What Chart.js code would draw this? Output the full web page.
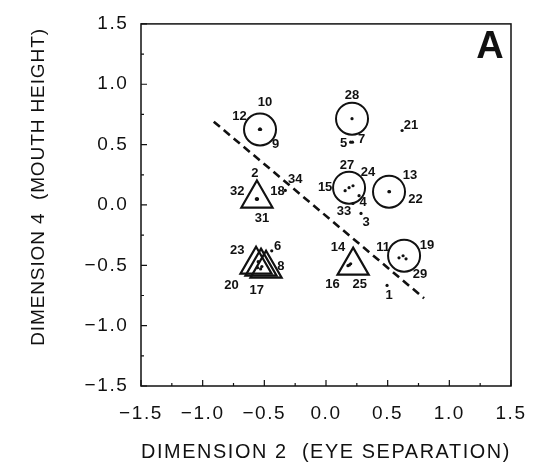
<!DOCTYPE html>
<html>
<head>
<meta charset="utf-8">
<script src="https://cdn.jsdelivr.net/npm/chart.js@4/dist/chart.umd.min.js"></script>
<style>
  body { margin: 0; background: #fff; }
  canvas { display: block; }
</style>
</head>
<body>
<canvas id="mds_a" width="545" height="462"></canvas>
<script>
// numero de cada cara y su posicion en el espacio (dim 2, dim 4)
var caraIds = ['1','2','3','4','5','6','7','8','9','10','11','12','13','14','15','16','17','18','19','20','21','22','23','24','25','27','28','29','31','32','33','34'];
var dim2 = [0.495,-0.56,0.284,0.268,0.20,-0.44,0.215,-0.52,-0.53,-0.535,0.592,-0.54,0.51,0.178,0.155,0.19,-0.53,-0.555,0.625,-0.555,0.617,0.515,-0.55,0.219,0.20,0.187,0.211,0.649,-0.56,-0.565,0.219,-0.33];
var dim4 = [-0.667,0.05,-0.07,0.077,0.52,-0.38,0.52,-0.51,0.625,0.63,-0.438,0.625,0.11,-0.503,0.118,-0.497,-0.53,0.05,-0.421,-0.52,0.617,0.11,-0.47,0.159,-0.487,0.143,0.715,-0.446,0.045,0.05,0.012,0.12];

// grupos marcados con circulo
var circuloX = [-0.535, 0.211, 0.187, 0.511, 0.633];
var circuloY = [0.625, 0.715, 0.143, 0.11, -0.42];

// grupos marcados con triangulo
var trianguloX = [-0.56, 0.22, -0.567, -0.527, -0.486];
var trianguloY = [0.053, -0.503, -0.495, -0.511, -0.528];

// recta discriminante (punteada)
var rectaX = [-0.91, 0.795];
var rectaY = [0.69, -0.773];

// marcas de los ejes
var ticksEje = [-1.5, -1.0, -0.5, 0.0, 0.5, 1.0, 1.5];

// textos
var tituloX = 'DIMENSION 2  (EYE SEPARATION)';
var tituloY = 'DIMENSION 4  (MOUTH HEIGHT)';
var letraPanel = 'A';

// desplazamiento de cada etiqueta respecto a su punto (px)
var desplazamientos = {
  '1':[2,10], '2':[-2,-25], '3':[5,9], '4':[4,7], '5':[-7,1], '6':[6,-4], '7':[9,-3],
  '8':[19,0], '9':[15,15], '10':[5,-26], '11':[-16,-10], '12':[-20,-13], '13':[21,-16],
  '14':[-10,-18], '15':[-20,-3], '16':[-17,19], '17':[-4,22], '18':[20,-7], '19':[24,-10],
  '20':[-26,18], '21':[9,-5], '22':[26,8], '23':[-21,-11], '24':[15,-13], '25':[9,21],
  '27':[-2,-22], '28':[0,-23], '29':[14,16], '31':[5,19], '32':[-19,-7], '33':[-9,8], '34':[10,-11]
};

function pares(xs, ys) {
  return xs.map(function (x, i) { return {x: x, y: ys[i]}; });
}

function formatoTick(v) {
  return Number(v).toFixed(1).replace('-', '\u2212');
}

var fuente = '"Liberation Sans", Arial, sans-serif';
var negro = '#111';
var espaciado = '1.6px';

// espaciado de letras tipo Helvetica ancha para ejes
var espaciadoPlugin = {
  id: 'espaciadoPlugin',
  beforeUpdate: function (chart) { chart.ctx.letterSpacing = espaciado; },
  beforeDraw: function (chart) { chart.ctx.letterSpacing = espaciado; }
};

// marco, marcas internas, titulo Y, etiquetas de puntos y letra del panel
var marcoPlugin = {
  id: 'marcoPlugin',
  afterDraw: function (chart) {
    var ctx = chart.ctx, a = chart.chartArea, sx = chart.scales.x, sy = chart.scales.y;
    ctx.save();
    ctx.strokeStyle = negro;
    ctx.lineWidth = 1.5;
    ctx.strokeRect(a.left, a.top, a.right - a.left, a.bottom - a.top);
    ctx.lineWidth = 1.2;
    for (var k = 0; k <= 12; k++) {
      var v = -1.5 + k * 0.25;
      var largo = (k % 2 === 0) ? 6 : 3;
      var px = sx.getPixelForValue(v);
      var py = sy.getPixelForValue(v);
      ctx.beginPath();
      ctx.moveTo(px, a.bottom); ctx.lineTo(px, a.bottom - largo);
      ctx.moveTo(a.left, py); ctx.lineTo(a.left + largo, py);
      ctx.stroke();
    }
    ctx.fillStyle = negro;
    ctx.textAlign = 'center';
    ctx.textBaseline = 'middle';

    // titulo del eje Y (un poco por encima del centro, como el original)
    ctx.save();
    ctx.font = '19px ' + fuente;
    ctx.letterSpacing = '0.9px';
    ctx.translate(38.5, 187);
    ctx.rotate(-Math.PI / 2);
    ctx.fillText(tituloY, 0, 0);
    ctx.restore();

    ctx.letterSpacing = '0px';
    ctx.font = 'bold 13px ' + fuente;
    caraIds.forEach(function (id, i) {
      var d = desplazamientos[id] || [0, -10];
      ctx.fillText(id, sx.getPixelForValue(dim2[i]) + d[0], sy.getPixelForValue(dim4[i]) + d[1]);
    });
    ctx.font = 'bold 38px ' + fuente;
    ctx.fillText(letraPanel, a.right - 21, a.top + 24);
    ctx.restore();
  }
};

var configuracion = {
  type: 'scatter',
  data: {
    datasets: [
      {
        label: 'caras',
        data: pares(dim2, dim4),
        pointRadius: 1.6,
        pointBackgroundColor: negro,
        pointBorderWidth: 0
      },
      {
        label: 'recta',
        data: pares(rectaX, rectaY),
        showLine: true,
        borderColor: negro,
        borderWidth: 2.6,
        borderDash: [8, 5],
        pointRadius: 0
      },
      {
        label: 'circulos',
        data: pares(circuloX, circuloY),
        pointStyle: 'circle',
        pointRadius: 16,
        pointBorderColor: negro,
        pointBorderWidth: 2,
        pointBackgroundColor: 'rgba(0,0,0,0)'
      },
      {
        label: 'triangulos',
        data: pares(trianguloX, trianguloY),
        pointStyle: 'triangle',
        pointRadius: 18,
        pointBorderColor: negro,
        pointBorderWidth: 2.2,
        pointBackgroundColor: 'rgba(0,0,0,0)'
      }
    ]
  },
  options: {
    responsive: false,
    animation: false,
    layout: { padding: { top: 19, right: 34, left: 0, bottom: 0 } },
    plugins: { legend: { display: false }, tooltip: { enabled: false } },
    scales: {
      x: {
        type: 'linear', min: -1.5, max: 1.5,
        afterBuildTicks: function (s) { s.ticks = ticksEje.map(function (v) { return {value: v}; }); },
        afterFit: function (s) { s.height = 76; },
        grid: { display: false, drawTicks: false },
        border: { display: false },
        ticks: { autoSkip: false, maxRotation: 0, padding: 16, color: negro,
                 font: { family: fuente, size: 19 }, callback: formatoTick },
        title: { display: true, text: tituloX, color: negro,
                 font: { family: fuente, size: 20, lineHeight: 1 }, padding: { top: 0, bottom: 0 } }
      },
      y: {
        type: 'linear', min: -1.5, max: 1.5,
        afterBuildTicks: function (s) { s.ticks = ticksEje.map(function (v) { return {value: v}; }); },
        afterFit: function (s) { s.width = 141; },
        grid: { display: false, drawTicks: false },
        border: { display: false },
        ticks: { autoSkip: false, padding: 12.5, color: negro,
                 font: { family: fuente, size: 19 }, callback: formatoTick },
        title: { display: false }
      }
    }
  },
  plugins: [espaciadoPlugin, marcoPlugin]
};

var mi_grafico = new Chart(document.getElementById('mds_a').getContext('2d'), configuracion);
</script>
</body>
</html>
